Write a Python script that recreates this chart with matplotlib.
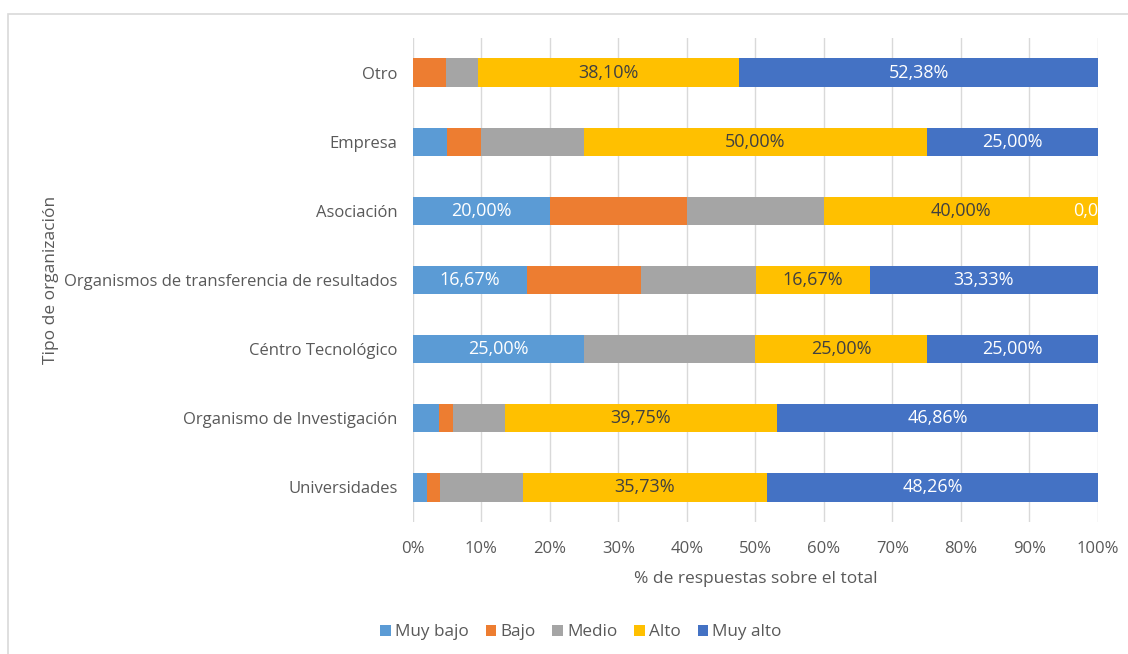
import numpy as np
import matplotlib.pyplot as plt
from matplotlib.patches import Rectangle

categorias = ['Universidades', 'Organismo de Investigación', 'Céntro Tecnológico',
              'Organismos de transferencia de resultados', 'Asociación', 'Empresa', 'Otro']
niveles = ['Muy bajo', 'Bajo', 'Medio', 'Alto', 'Muy alto']

muy_bajo = [2.00, 3.77, 25.00, 16.67, 20.00, 5.00, 0.00]
bajo = [2.00, 2.09, 0.00, 16.67, 20.00, 5.00, 4.76]
medio = [12.01, 7.53, 25.00, 16.67, 20.00, 15.00, 4.76]
alto = [35.73, 39.75, 25.00, 16.67, 40.00, 50.00, 38.10]
muy_alto = [48.26, 46.86, 25.00, 33.33, 0.00, 25.00, 52.38]

colores = ['#5B9BD5', '#ED7D31', '#A5A5A5', '#FFC000', '#4472C4']
color_texto = ['white', None, None, '#404040', 'white']

plt.rcParams['font.family'] = ['Open Sans', 'DejaVu Sans']

fig = plt.figure(figsize=(11.28, 6.54), dpi=100)
ax = fig.add_axes([0.3661, 0.2018, 0.6073, 0.7401])

y = np.arange(len(categorias))
series = [muy_bajo, bajo, medio, alto, muy_alto]
izq = np.zeros(len(categorias))
for i, (nombre, vals) in enumerate(zip(niveles, series)):
    vals = np.array(vals)
    ax.barh(y, vals, left=izq, height=0.41, color=colores[i], label=nombre, zorder=2)
    for j, v in enumerate(vals):
        mostrar = False
        if i == 0 and v >= 10:
            mostrar = True
        if i in (3, 4):
            mostrar = True
        if mostrar:
            txt = f'{v:.2f}%'.replace('.', ',')
            ax.text(izq[j] + v / 2, y[j], txt, ha='center', va='center',
                    color=color_texto[i], fontsize=13, zorder=3, clip_on=True)
    izq += vals

ax.set_xlim(0, 100)
ax.set_ylim(-0.5, len(categorias) - 0.5)
ax.set_xticks(np.arange(0, 101, 10))
ax.set_xticklabels([f'{t}%' for t in range(0, 101, 10)])
ax.set_yticks(y)
ax.set_yticklabels(categorias)
ax.tick_params(axis='both', length=0, labelsize=12, labelcolor='#595959')
ax.tick_params(axis='x', pad=14)
ax.tick_params(axis='y', pad=11)
ax.grid(axis='x', color='#D9D9D9', linewidth=1, zorder=0)
for s in ax.spines.values():
    s.set_visible(False)

ax.set_xlabel('% de respuestas sobre el total', fontsize=12.5, color='#595959', labelpad=10)
ax.set_ylabel('Tipo de organización', fontsize=12.5, color='#595959')
ax.yaxis.set_label_coords(-0.517, 0.5)

leg = fig.legend(loc='center', bbox_to_anchor=(0.515, 0.033), ncol=5, frameon=False,
                 fontsize=12.3, handlelength=0.6, handleheight=0.6, handletextpad=0.25,
                 columnspacing=1.0)
for t in leg.get_texts():
    t.set_color('#595959')

fig.patches.append(Rectangle((8 / 1128, -0.1), 1.2, 1 - 14 / 654 + 0.1, transform=fig.transFigure,
                             fill=False, edgecolor='#D9D9D9', linewidth=1.2))

fig.savefig('out.png', dpi=100)
